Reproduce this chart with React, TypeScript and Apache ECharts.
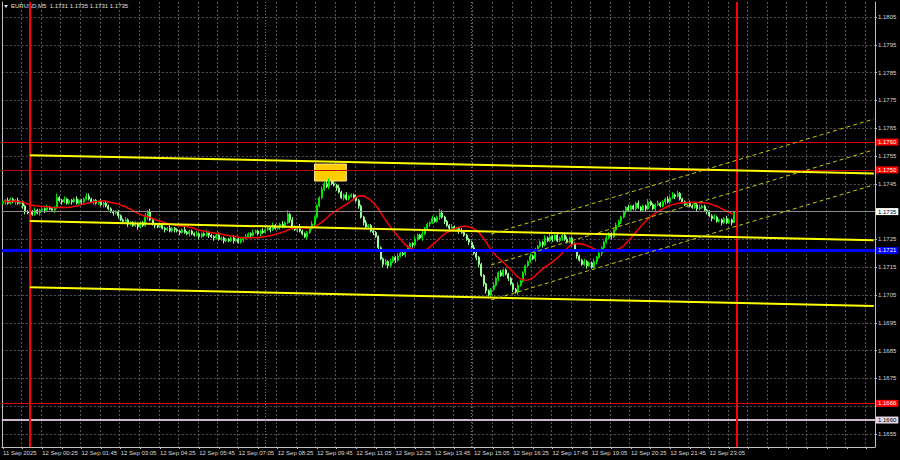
import React, { useEffect, useRef } from 'react';
import * as echarts from 'echarts';

const TITLE_TEXT = 'EURUSD,M5  1.1731 1.1735 1.1731 1.1735';
const BASE_PRICE = 1.17;
const FIRST_OPEN_PIPS = 38;
// closes in pips above 1.1700, one per 5-minute bar from 11 Sep 23:05 to 12 Sep 23:55
const CLOSE_PIPS = [
  38.5, 39, 38, 39.5, 38.5, 39, 38, 38.5, 37, 35,
  34.5, 35, 34, 35.5, 34.5, 35.5,
  36, 35.5, 36.5, 36, 35.5, 36.5, 40,
  39, 38.5, 39.5, 38, 39, 38.5, 39.5, 38, 39, 38.5, 39.5, 40.5, 39.5,
  38.5, 39, 38, 38.5, 37.5, 38, 37, 36, 35, 34.5,
  35, 33.5, 32, 31.5, 32, 30.5, 31, 30, 30.5, 29.5, 31, 30,
  33, 35, 32,
  30.5, 30, 29.5, 30, 29, 28.5, 29, 28, 29, 28.5,
  28, 27.5, 28.5, 27.5, 27, 28, 27, 26.5, 27, 26, 27, 26.5, 27.5, 26.5,
  26, 25.5, 26.5, 25, 25.5, 24.5, 25, 24.5, 25.5, 24.5, 25, 24, 25, 25.5, 26,
  27, 26.5, 27.5, 28, 27, 28, 27.5, 28.5,
  29, 28.5, 30, 29, 29.5, 30.5, 29.5, 31,
  34, 32, 29.5,
  28.5, 29.5, 28, 27, 26, 27.5, 29, 30.5,
  33, 37, 40, 43, 45,
  44, 46, 45, 44.5, 43.5, 42,
  40, 41, 39.5, 40.5, 41, 40, 39, 37,
  33, 31, 29.5, 30, 28, 27.5, 26,
  22, 18, 16, 17, 15.5, 17,
  18.5, 17.5, 19, 20, 19.5, 21, 22,
  23.5, 23, 25, 26.5, 25.5, 27, 29,
  30.5, 31, 32.5, 31.5, 33, 34.5, 33, 31.5,
  30, 29, 29.5, 28.5, 29, 28, 27.5, 26.5,
  25, 24, 22, 20, 18.5, 16,
  12, 9, 6.5, 5, 7, 8.5,
  11, 13, 12, 14, 12.5, 11, 9,
  7, 6, 8.5, 10,
  13, 15.5, 17, 19, 18, 21, 22.5,
  24, 23, 25.5, 24.5, 26, 25, 26.5, 24.5, 25.5, 26.5, 25, 24, 25.5, 23.5,
  21, 19, 17.5, 16, 17, 15.5, 16.5, 15, 17, 18.5,
  20, 22, 24, 25.5, 27, 26, 28.5, 30, 31.5, 33,
  35, 36.5, 35.5, 37, 36, 38, 36.5, 35.5, 37, 36, 38.5, 37.5, 36, 37.5, 38, 37, 38.5, 39.5, 38.5, 40,
  41, 40.5, 41.5, 39.5, 38.5,
  37.5, 38, 37, 36.5, 37.5, 36, 36.5, 37, 35.5, 35,
  33.5, 32.5, 33, 31.5, 32, 31, 32.5, 31, 32, 31, 35,
];
// wick lengths above / below the body, in half pips
const UP_WICKS = [
  '1121112111', '111211', '1121113', '1121111211122', '1111211111', '111121112111', '312',
  '1112111211', '11121111211121', '111211111211112', '11211121', '11211121', '312', '11211112',
  '11122', '221212', '11211121', '1121111', '111212', '1121112', '1121121', '11211321', '11211121',
  '111211', '111112', '1121111', '1121', '1112121', '11212112111211', '1111211121', '1112111211',
  '11211121112111211121', '21211', '1121112111', '11211112110',
].join('');
const DOWN_WICKS = [
  '1211121122', '121112', '1211121', '1211121112111', '1211121112', '121112111211', '121',
  '1211121112', '12111211121112', '121112111211121', '12111211', '12111211', '122', '12111211',
  '21111', '121121', '12111212', '1211121', '212121', '1211121', '1211121', '12111212', '12111211',
  '121122', '122121', '1211121', '2121', '1211121', '12111211121112', '1211121112', '1211121112',
  '12111211121112111211', '12111', '1211121112', '12111211120',
].join('');

const TOTAL_SLOTS = 356;
const MA_PERIOD = 20;
const PRICE_TICKS = [
  1.1655, 1.1665, 1.1675, 1.1685, 1.1695, 1.1705, 1.1715, 1.1725,
  1.1735, 1.1745, 1.1755, 1.1765, 1.1775, 1.1785, 1.1795, 1.1805,
];
// 1.1665 and 1.1735 are covered by the price boxes on the scale
const PRICE_TICK_LABELS = [
  1.1655, 1.1675, 1.1685, 1.1695, 1.1705, 1.1715, 1.1725,
  1.1745, 1.1755, 1.1765, 1.1775, 1.1785, 1.1795, 1.1805,
];
const RED_LEVELS = [1.176, 1.175, 1.1666];
const BLUE_LEVEL = 1.1721;
const GRAY_LEVEL = 1.166;
const BID_LEVEL = 1.1735;
const DAY_SEPARATORS = [11, 299];
const SESSION_MARKS = [107, 191];
const TREND_LINES = [
  [[11, 1.17553], [355, 1.17487]],
  [[11, 1.17316], [355, 1.17247]],
  [[11, 1.17078], [355, 1.1701]],
];
const CHANNEL_LINES = [
  [[199, 1.17269], [355, 1.17683]],
  [[199, 1.17158], [355, 1.17572]],
  [[199, 1.17032], [355, 1.17446]],
];
const ZONE = [[127, 1.17521], [140, 1.1746]];

const MONTHS = ['Jan', 'Feb', 'Mar', 'Apr', 'May', 'Jun', 'Jul', 'Aug', 'Sep', 'Oct', 'Nov', 'Dec'];
const START_MS = Date.UTC(2025, 8, 11, 23, 5);
const pad = (n: number) => (n < 10 ? '0' + n : '' + n);

function slotKey(i: number) {
  const d = new Date(START_MS + i * 300000);
  return `${d.getUTCFullYear()}-${pad(d.getUTCMonth() + 1)}-${pad(d.getUTCDate())} ${pad(d.getUTCHours())}:${pad(d.getUTCMinutes())}`;
}
function slotLabel(i: number) {
  const d = new Date(START_MS + i * 300000);
  if (i === 0) return `${d.getUTCDate()} ${MONTHS[d.getUTCMonth()]} ${d.getUTCFullYear()}`;
  return `${d.getUTCDate()} ${MONTHS[d.getUTCMonth()]} ${pad(d.getUTCHours())}:${pad(d.getUTCMinutes())}`;
}

export default function App() {
  const ref = useRef<HTMLDivElement>(null);
  useEffect(() => {
    if (!ref.current) return;
    const chart = echarts.init(ref.current, undefined, { renderer: 'svg' });
    const toPrice = (p: number) => +(BASE_PRICE + p / 10000).toFixed(5);
    const nBars = CLOSE_PIPS.length;
    const candles: number[][] = [];
    const closes: number[] = [];
    for (let i = 0; i < nBars; i++) {
      const o = i === 0 ? FIRST_OPEN_PIPS : CLOSE_PIPS[i - 1];
      const c = CLOSE_PIPS[i];
      const up = UP_WICKS[i] !== undefined ? +UP_WICKS[i] : 1;
      const dn = DOWN_WICKS[i] !== undefined ? +DOWN_WICKS[i] : 1;
      const h = Math.max(o, c) + up * 0.5;
      const l = Math.min(o, c) - dn * 0.5;
      candles.push([toPrice(o), toPrice(c), toPrice(l), toPrice(h)]);
      closes.push(toPrice(c));
    }
    const ma: number[] = closes.map((_, i) => {
      const from = Math.max(0, i - MA_PERIOD + 1);
      const slice = closes.slice(from, i + 1);
      return +(slice.reduce((a, b) => a + b, 0) / slice.length).toFixed(5);
    });
    const categories = Array.from({ length: TOTAL_SLOTS }, (_, i) => slotKey(i));
    const font = 'Liberation Sans, Arial, sans-serif';

    const priceLabel = (price: number, bg: string, fg: string) => ({
      show: true,
      position: 'end',
      formatter: price.toFixed(4),
      backgroundColor: bg,
      color: fg,
      fontSize: 6,
      fontFamily: font,
      padding: [1, 2, 0, 2],
      distance: 1,
    });

    const markLines: any[] = [];
    RED_LEVELS.forEach((p, k) =>
      markLines.push({
        yAxis: p,
        lineStyle: { color: k === 1 ? '#c00000' : '#e00000', width: 1, type: 'solid' },
        label: priceLabel(p, '#ff0000', '#ffffff'),
      })
    );
    markLines.push({ yAxis: GRAY_LEVEL, lineStyle: { color: '#c8b8c8', width: 2, type: 'solid' }, label: priceLabel(GRAY_LEVEL, '#e4d8e4', '#000000') });
    markLines.push({ yAxis: BLUE_LEVEL, lineStyle: { color: '#0000ff', width: 3, type: 'solid' }, label: priceLabel(BLUE_LEVEL, '#0000ff', '#ffffff') });
    markLines.push({ yAxis: BID_LEVEL, lineStyle: { color: '#8c8c8c', width: 1, type: 'solid' }, label: priceLabel(BID_LEVEL, '#ffffff', '#000000') });
    DAY_SEPARATORS.forEach((x) =>
      markLines.push({ xAxis: x, lineStyle: { color: '#ff0000', width: 2, type: 'solid' }, label: { show: false } })
    );
    SESSION_MARKS.forEach((x) =>
      markLines.push({ xAxis: x, lineStyle: { color: '#00d000', width: 1, type: [1, 2] }, label: { show: false } })
    );
    TREND_LINES.forEach(([a, b]) =>
      markLines.push([
        { coord: a, lineStyle: { color: '#ffff00', width: 2, type: 'solid' }, label: { show: false } },
        { coord: b },
      ])
    );
    CHANNEL_LINES.forEach(([a, b]) =>
      markLines.push([
        { coord: a, lineStyle: { color: '#c8c800', width: 1, type: [4, 3] }, label: { show: false } },
        { coord: b },
      ])
    );

    const option: any = {
      animation: false,
      backgroundColor: '#000000',
      grid: { left: 1, right: 25, top: 2, bottom: 13, containLabel: false },
      xAxis: [
        {
          type: 'category',
          data: categories,
          boundaryGap: true,
          axisLine: { show: true, lineStyle: { color: '#c0c0c0', width: 1 } },
          axisTick: { show: true, interval: 7, alignWithLabel: true, length: 2, lineStyle: { color: '#c0c0c0' } },
          axisLabel: {
            interval: 15,
            align: 'left',
            color: '#d8d8d8',
            fontSize: 6,
            fontFamily: font,
            margin: 3,
            formatter: (_v: string, idx: number) => (idx < nBars ? slotLabel(idx) : ''),
          },
          splitLine: { show: true, interval: 7, lineStyle: { color: '#555555', width: 1, type: [2, 2] } },
        },
      ],
      yAxis: [
        {
          type: 'value',
          position: 'right',
          min: 1.16503,
          max: 1.18104,
          axisLine: { show: true, lineStyle: { color: '#c0c0c0', width: 1 } },
          axisTick: { show: true, customValues: PRICE_TICKS, length: 2, lineStyle: { color: '#c0c0c0' } },
          axisLabel: {
            customValues: PRICE_TICK_LABELS,
            formatter: (v: number) => v.toFixed(4),
            color: '#d8d8d8',
            fontSize: 6,
            fontFamily: font,
            margin: 3,
          },
          splitLine: { show: true, lineStyle: { color: '#555555', width: 1, type: [2, 2] } },
        },
        {
          type: 'value',
          position: 'left',
          min: 1.16503,
          max: 1.18104,
          axisLine: { show: true, lineStyle: { color: '#c0c0c0', width: 1 } },
          axisTick: { show: false },
          axisLabel: { show: false },
          splitLine: { show: false },
        },
      ],
      series: [
        {
          type: 'candlestick',
          data: candles,
          barWidth: 1.5,
          itemStyle: {
            color: '#00e600',
            color0: '#98ff98',
            borderColor: '#00e600',
            borderColor0: '#98ff98',
            borderWidth: 1,
          },
          markArea: {
            silent: true,
            itemStyle: { color: '#ffcc00', borderColor: '#ffe680', borderWidth: 1 },
            data: [[{ xAxis: ZONE[0][0], yAxis: ZONE[0][1] }, { xAxis: ZONE[1][0], yAxis: ZONE[1][1] }]],
          },
        },
        {
          type: 'line',
          data: ma,
          showSymbol: false,
          symbol: 'none',
          lineStyle: { color: '#ff0000', width: 1.5 },
          z: 3,
          markLine: { silent: true, precision: 5, symbol: ['none', 'none'], data: markLines },
        },
      ],
      graphic: [
        {
          type: 'polygon',
          shape: { points: [[4, 5], [8, 5], [6, 8]] },
          style: { fill: '#e0e0e0' },
        },
        {
          type: 'text',
          x: 11,
          y: 3,
          style: { text: TITLE_TEXT, fill: '#e0e0e0', fontSize: 6, fontFamily: font },
        },
      ],
    };
    chart.setOption(option);
    return () => chart.dispose();
  }, []);
  return <div ref={ref} style={{ width: 900, height: 460, position: 'absolute', left: 0, top: 0 }} />;
}
